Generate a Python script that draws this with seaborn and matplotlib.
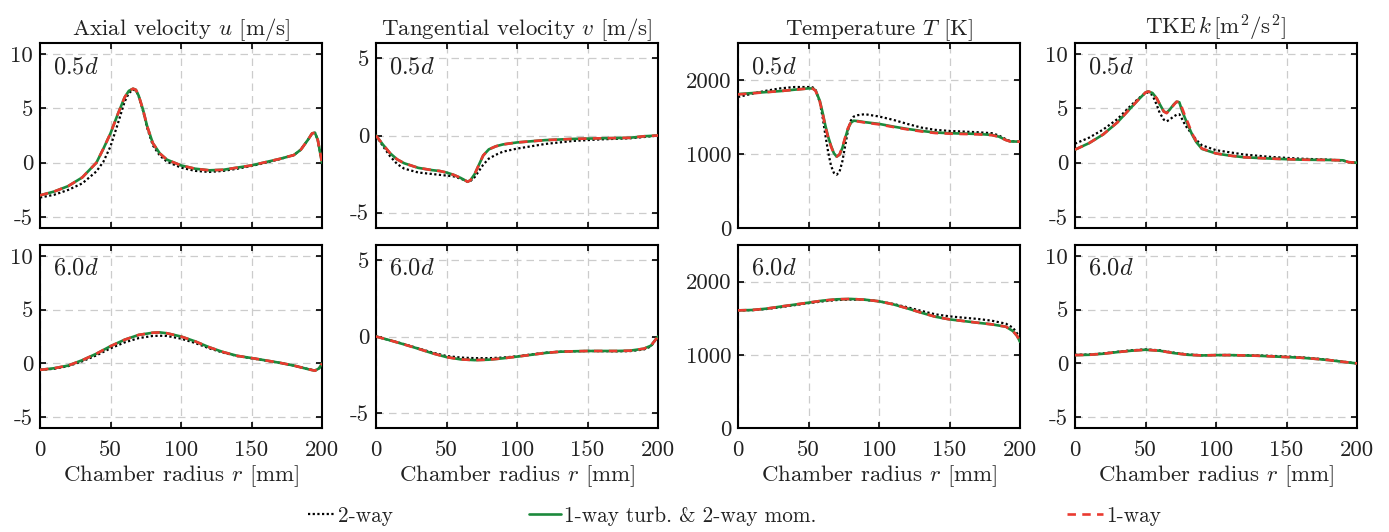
import matplotlib
matplotlib.use("Agg")
import matplotlib.pyplot as plt
import seaborn as sns

# ---- profiles (r in mm) ----
# axial velocity u [m/s], 0.5d
r_u05 = [0, 10, 20, 30, 40, 45, 50, 55, 60, 63, 66, 68, 70, 73, 76, 80, 85, 90,
         100, 110, 120, 130, 140, 150, 160, 170, 180, 185, 190, 193, 195, 197, 200]
u05_2way = [-3.2, -2.95, -2.5, -1.9, -0.8, 0.1, 1.5, 3.5, 5.6, 6.4, 6.7, 6.65, 6.1, 4.8,
            3.2, 1.6, 0.65, 0.1, -0.45, -0.75, -0.85, -0.75, -0.55, -0.3, 0.0, 0.33,
            0.7, 1.2, 2.1, 2.7, 2.75, 2.1, 0.0]
u05_turb = [-3.0, -2.65, -2.15, -1.35, 0.0, 1.3, 2.7, 4.4, 6.0, 6.6, 6.8, 6.7, 6.15, 4.9,
            3.35, 1.8, 0.85, 0.28, -0.25, -0.55, -0.7, -0.65, -0.45, -0.25, 0.05, 0.35,
            0.7, 1.2, 2.1, 2.7, 2.75, 2.1, 0.0]
u05_1way = [-3.0, -2.65, -2.15, -1.35, 0.0, 1.3, 2.7, 4.4, 6.0, 6.6, 6.8, 6.7, 6.15, 4.9,
            3.35, 1.8, 0.85, 0.28, -0.25, -0.55, -0.7, -0.65, -0.45, -0.25, 0.05, 0.35,
            0.7, 1.2, 2.1, 2.7, 2.75, 2.1, 0.0]

# tangential velocity v [m/s], 0.5d
r_v05 = [0, 5, 10, 15, 20, 30, 40, 45, 50, 55, 60, 63, 65, 67, 70, 73, 76, 80, 85, 90,
         100, 120, 140, 160, 180, 190, 200]
v05_2way = [0, -0.7, -1.35, -1.85, -2.15, -2.4, -2.5, -2.55, -2.6, -2.65, -2.8, -2.9,
            -3.0, -2.95, -2.7, -2.3, -1.9, -1.5, -1.25, -1.05, -0.85, -0.55, -0.35,
            -0.25, -0.18, -0.1, 0]
v05_turb = [0, -0.6, -1.15, -1.55, -1.8, -2.1, -2.25, -2.3, -2.4, -2.55, -2.75, -2.9,
            -3.0, -2.9, -2.5, -1.9, -1.3, -0.9, -0.7, -0.58, -0.45, -0.3, -0.22, -0.18,
            -0.15, -0.05, 0]
v05_1way = [0, -0.6, -1.15, -1.55, -1.8, -2.1, -2.25, -2.3, -2.4, -2.55, -2.75, -2.9,
            -3.0, -2.9, -2.5, -1.9, -1.3, -0.9, -0.7, -0.58, -0.45, -0.3, -0.22, -0.18,
            -0.15, -0.05, 0]

# temperature T [K], 0.5d
r_T05 = [0, 10, 20, 30, 40, 50, 53, 55, 58, 60, 62, 64, 66, 68, 70, 72, 74, 76, 78, 80,
         82, 85, 90, 100, 110, 120, 130, 140, 150, 160, 170, 180, 185, 190, 193, 200]
T05_2way = [1770, 1815, 1855, 1887, 1905, 1905, 1900, 1870, 1700, 1500, 1250, 1020, 840,
            745, 720, 760, 900, 1110, 1320, 1450, 1505, 1525, 1538, 1507, 1462, 1407,
            1357, 1326, 1312, 1303, 1294, 1281, 1250, 1199, 1175, 1167]
T05_turb = [1810, 1823, 1837, 1850, 1869, 1887, 1885, 1860, 1720, 1560, 1380, 1230, 1110,
            1010, 965, 990, 1080, 1213, 1340, 1420, 1450, 1445, 1430, 1407, 1371, 1339,
            1312, 1290, 1281, 1276, 1271, 1258, 1235, 1190, 1170, 1167]
T05_1way = [1805, 1820, 1835, 1850, 1868, 1885, 1883, 1855, 1710, 1545, 1365, 1215, 1100,
            1005, 965, 995, 1090, 1225, 1350, 1425, 1448, 1440, 1425, 1400, 1365, 1333,
            1305, 1283, 1275, 1270, 1266, 1255, 1232, 1188, 1170, 1167]

# turbulent kinetic energy k [m2/s2], 0.5d
r_k05 = [0, 10, 20, 30, 40, 45, 50, 52, 55, 58, 60, 63, 65, 67, 70, 72, 74, 76, 78, 80,
         83, 86, 90, 100, 110, 120, 140, 160, 180, 190, 194, 200]
k05_2way = [1.75, 2.3, 3.05, 4.0, 5.3, 5.9, 6.4, 6.45, 6.2, 5.3, 4.6, 3.95, 3.8, 3.95,
            4.25, 4.4, 4.45, 4.0, 3.5, 3.1, 2.65, 2.1, 1.6, 1.15, 0.95, 0.75, 0.52, 0.37,
            0.28, 0.2, 0.05, 0]
k05_turb = [1.2, 1.8, 2.6, 3.7, 5.1, 5.8, 6.45, 6.55, 6.4, 5.9, 5.4, 4.7, 4.6, 4.85,
            5.35, 5.6, 5.55, 4.75, 4.1, 3.5, 2.6, 1.9, 1.27, 0.85, 0.65, 0.5, 0.37, 0.28,
            0.25, 0.22, 0.05, 0]
k05_1way = [1.2, 1.8, 2.6, 3.7, 5.1, 5.8, 6.45, 6.55, 6.4, 5.9, 5.4, 4.7, 4.55, 4.8,
            5.3, 5.6, 5.6, 5.0, 4.3, 3.7, 2.7, 1.95, 1.3, 0.85, 0.65, 0.5, 0.37, 0.28,
            0.25, 0.22, 0.05, 0]

# axial velocity u [m/s], 6.0d
r_u6 = [0, 10, 20, 30, 40, 50, 60, 70, 80, 85, 90, 100, 110, 120, 130, 140, 150, 160,
        170, 180, 190, 195, 198, 200]
u6_2way = [-0.6, -0.5, -0.25, 0.2, 0.75, 1.4, 1.95, 2.35, 2.55, 2.57, 2.55, 2.3, 1.9,
           1.4, 1.0, 0.68, 0.48, 0.27, 0.05, -0.2, -0.52, -0.66, -0.45, 0]
u6_turb = [-0.6, -0.45, -0.2, 0.3, 0.9, 1.6, 2.2, 2.65, 2.85, 2.88, 2.8, 2.5, 2.05, 1.5,
           1.05, 0.7, 0.5, 0.28, 0.06, -0.2, -0.53, -0.68, -0.45, 0]
u6_1way = [-0.6, -0.45, -0.2, 0.3, 0.9, 1.6, 2.2, 2.65, 2.85, 2.88, 2.8, 2.5, 2.05, 1.5,
           1.05, 0.7, 0.5, 0.28, 0.06, -0.2, -0.53, -0.68, -0.45, 0]

# tangential velocity v [m/s], 6.0d
r_v6 = [0, 10, 20, 30, 40, 50, 60, 70, 80, 90, 100, 110, 120, 130, 140, 150, 160, 170,
        180, 190, 195, 200]
v6_2way = [0, -0.25, -0.5, -0.78, -1.05, -1.28, -1.38, -1.42, -1.42, -1.38, -1.3, -1.18,
           -1.06, -1.0, -0.97, -0.95, -0.96, -0.97, -0.96, -0.85, -0.65, 0]
v6_turb = [0, -0.25, -0.52, -0.8, -1.1, -1.35, -1.5, -1.55, -1.52, -1.43, -1.32, -1.2,
           -1.08, -1.0, -0.97, -0.95, -0.95, -0.95, -0.93, -0.8, -0.6, 0]
v6_1way = [0, -0.25, -0.52, -0.8, -1.1, -1.35, -1.5, -1.55, -1.52, -1.43, -1.32, -1.2,
           -1.08, -1.0, -0.97, -0.95, -0.95, -0.95, -0.93, -0.8, -0.6, 0]

# temperature T [K], 6.0d
r_T6 = [0, 10, 20, 30, 40, 50, 60, 70, 80, 90, 100, 110, 120, 130, 140, 150, 160, 170,
        180, 190, 195, 198, 200]
T6_2way = [1607, 1610, 1625, 1650, 1678, 1705, 1730, 1748, 1755, 1750, 1731, 1695, 1650,
           1600, 1553, 1525, 1507, 1490, 1466, 1425, 1370, 1290, 1178]
T6_turb = [1607, 1612, 1630, 1658, 1685, 1712, 1740, 1758, 1763, 1753, 1731, 1690, 1635,
           1575, 1520, 1484, 1461, 1438, 1416, 1384, 1324, 1256, 1178]
T6_1way = [1607, 1612, 1630, 1658, 1685, 1712, 1740, 1758, 1763, 1753, 1731, 1690, 1635,
           1575, 1520, 1484, 1461, 1438, 1416, 1384, 1324, 1256, 1178]

# turbulent kinetic energy k [m2/s2], 6.0d
r_k6 = [0, 10, 20, 30, 40, 50, 60, 70, 80, 90, 100, 110, 120, 130, 140, 150, 160, 170,
        180, 190, 200]
k6_2way = [0.8, 0.83, 0.93, 1.08, 1.22, 1.3, 1.22, 1.0, 0.83, 0.76, 0.78, 0.78, 0.76,
           0.74, 0.7, 0.64, 0.57, 0.46, 0.33, 0.16, 0]
k6_turb = [0.77, 0.8, 0.9, 1.05, 1.18, 1.27, 1.18, 0.96, 0.8, 0.74, 0.77, 0.77, 0.74,
           0.71, 0.65, 0.59, 0.53, 0.43, 0.31, 0.15, 0]
k6_1way = [0.77, 0.8, 0.9, 1.05, 1.18, 1.27, 1.18, 0.96, 0.8, 0.74, 0.77, 0.77, 0.74,
           0.71, 0.65, 0.59, 0.53, 0.43, 0.31, 0.15, 0]

titles = ["Axial velocity $u$ [m/s]", "Tangential velocity $v$ [m/s]",
          "Temperature $T$ [K]", r"TKE$\,k\,$[m$^2$/s$^2$]"]
stations = [r"$0.5d$", r"$6.0d$"]
legend_labels = ["2-way", "1-way turb. & 2-way mom.", "1-way"]
x_ticks = [0, 50, 100, 150, 200]
y_ticks = [[-5, 0, 5, 10], [-5, 0, 5], [0, 1000, 2000], [-5, 0, 5, 10]]
y_lims = [(-6, 11), (-6, 6), (0, 2500), (-6, 11)]

profiles = [
    [(r_u05, u05_2way, u05_turb, u05_1way), (r_v05, v05_2way, v05_turb, v05_1way),
     (r_T05, T05_2way, T05_turb, T05_1way), (r_k05, k05_2way, k05_turb, k05_1way)],
    [(r_u6, u6_2way, u6_turb, u6_1way), (r_v6, v6_2way, v6_turb, v6_1way),
     (r_T6, T6_2way, T6_turb, T6_1way), (r_k6, k6_2way, k6_turb, k6_1way)],
]

sns.set_theme(style="white")
FS = 16.5
plt.rcParams.update({
    "font.family": ["cmr10", "DejaVu Serif"],
    "mathtext.fontset": "cm",
    "axes.unicode_minus": False,
    "font.size": FS,
})

W, H = 1389, 532
fig = plt.figure(figsize=(W / 100, H / 100), dpi=100)

col_left = [40, 376, 738, 1075]
row_span = [(43, 228), (245, 428)]
col_w = 282

GREEN = "#1c8a3c"
RED = "#ea3a30"
TXT = "#222222"

handles = []
for i, row in enumerate(profiles):
    top, bottom = row_span[i]
    for j, (r, v2, vt, v1) in enumerate(row):
        ax = fig.add_axes([col_left[j] / W, 1 - bottom / H, col_w / W, (bottom - top) / H])
        sns.lineplot(x=r, y=v2, ax=ax, color="black", lw=1.6,
                     linestyle=(0, (1, 1.1)), label=legend_labels[0], zorder=3)
        sns.lineplot(x=r, y=vt, ax=ax, color=GREEN, lw=1.9,
                     label=legend_labels[1], zorder=4)
        sns.lineplot(x=r, y=v1, ax=ax, color=RED, lw=1.9,
                     linestyle=(0, (3.2, 2.4)), label=legend_labels[2], zorder=5)
        if not handles:
            handles = list(ax.get_lines()[:3])
        ax.get_legend().remove()

        ax.set_xlim(0, 200)
        ax.set_ylim(*y_lims[j])
        ax.set_xticks(x_ticks)
        ax.set_yticks(y_ticks[j])
        ax.grid(True, color="#cccccc", linestyle=(0, (6, 4)), lw=0.9)
        ax.tick_params(direction="in", length=4, width=1.2, top=True, right=True,
                       bottom=True, left=True, labelsize=FS, colors="black",
                       labelcolor=TXT)
        ax.tick_params(axis="x", pad=9)
        ax.tick_params(axis="y", pad=5)
        for sp in ax.spines.values():
            sp.set_visible(True)
            sp.set_color("black")
            sp.set_linewidth(1.5)
        ax.set_ylabel("")
        ax.text(0.045, 0.87, stations[i], transform=ax.transAxes, fontsize=17.5,
                va="center", ha="left", color=TXT)
        if i == 0:
            ax.set_title(titles[j], fontsize=FS, pad=6, color=TXT)
            ax.set_xticklabels([])
            ax.set_xlabel("")
        else:
            ax.set_xlabel("Chamber radius $r$ [mm]", fontsize=FS, labelpad=2, color=TXT)

legend_x = [308, 529, 1067]
legend_len = [1.25, 1.5, 1.7]
for h, lab, x, hl in zip(handles, legend_labels, legend_x, legend_len):
    fig.legend(handles=[h], labels=[lab], loc="center left",
               bbox_to_anchor=(x / W, 1 - 516 / H), frameon=False, fontsize=15.3,
               handlelength=hl, handletextpad=0.15, borderpad=0, borderaxespad=0,
               labelcolor=TXT)

fig.savefig("out.png", dpi=100)
